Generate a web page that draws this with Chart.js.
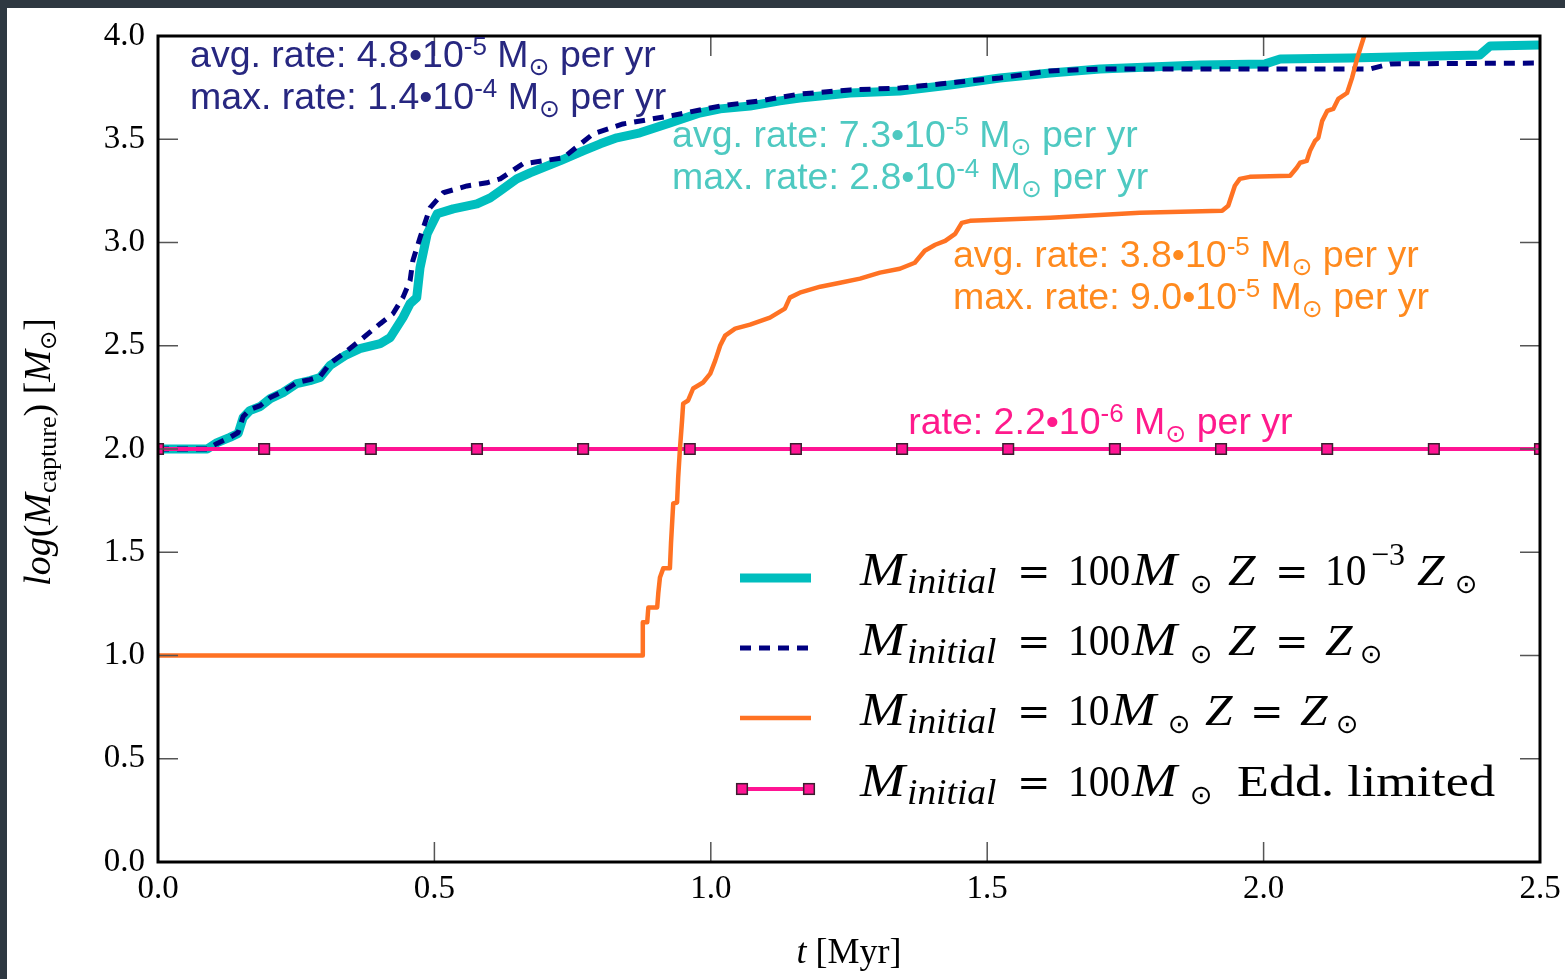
<!DOCTYPE html>
<html><head><meta charset="utf-8">
<script src="https://cdn.jsdelivr.net/npm/chart.js@4.4.1/dist/chart.umd.min.js"></script>
<style>
html,body{margin:0;padding:0;background:#2e3841;width:1565px;height:979px;overflow:hidden}
#wrap{position:absolute;left:7px;top:8px;width:1558px;height:971px;background:#fff}
canvas{display:block}
</style></head><body>
<div id="wrap"><canvas id="c" width="1558" height="971"></canvas></div>
<script>
// ---- data (t in Myr, value = log(M_capture / Msun)) ----
const xTicks = [0, 0.5, 1.0, 1.5, 2.0, 2.5];
const yTicks = [0, 0.5, 1.0, 1.5, 2.0, 2.5, 3.0, 3.5, 4.0];

const tCyan = [0,0.089,0.107,0.130,0.145,0.154,0.166,0.185,0.203,0.226,0.251,0.275,0.293,0.311,0.338,0.365,0.402,0.420,0.443,0.456,0.468,0.474,0.487,0.505,0.534,0.577,0.601,0.619,0.649,0.673,0.700,0.727,0.769,0.800,0.830,0.872,0.926,0.980,1.017,1.071,1.125,1.161,1.252,1.342,1.433,1.523,1.614,1.704,1.885,2.003,2.030,2.156,2.391,2.410,2.5];
const vCyan = [2.0,2.0,2.031,2.056,2.075,2.152,2.186,2.206,2.244,2.273,2.317,2.331,2.346,2.404,2.452,2.486,2.510,2.539,2.636,2.704,2.733,2.878,3.042,3.139,3.163,3.187,3.216,3.250,3.308,3.337,3.366,3.395,3.444,3.478,3.507,3.531,3.579,3.627,3.647,3.661,3.686,3.700,3.724,3.734,3.763,3.797,3.821,3.840,3.860,3.865,3.889,3.894,3.908,3.952,3.956];

const tNavy = [0,0.089,0.107,0.130,0.145,0.154,0.166,0.185,0.203,0.226,0.251,0.275,0.293,0.311,0.338,0.365,0.402,0.425,0.443,0.456,0.461,0.474,0.492,0.516,0.559,0.595,0.619,0.660,0.733,0.787,0.841,0.926,1.017,1.089,1.161,1.252,1.342,1.433,1.523,1.614,1.704,2.192,2.229,2.5];
const vNavy = [2.0,2.0,2.027,2.056,2.080,2.157,2.191,2.210,2.249,2.278,2.322,2.336,2.351,2.414,2.467,2.525,2.607,2.655,2.733,2.815,2.912,3.023,3.168,3.241,3.274,3.289,3.308,3.381,3.410,3.526,3.574,3.613,3.661,3.686,3.719,3.739,3.748,3.773,3.797,3.831,3.840,3.840,3.865,3.869];

const tOrange = [0,0.876,0.877,0.885,0.887,0.903,0.905,0.908,0.914,0.926,0.928,0.932,0.939,0.941,0.944,0.948,0.950,0.959,0.968,0.986,0.999,1.008,1.017,1.026,1.044,1.071,1.107,1.134,1.143,1.161,1.198,1.234,1.270,1.306,1.342,1.369,1.387,1.406,1.424,1.442,1.454,1.469,1.614,1.776,1.925,1.936,1.948,1.957,1.975,2.048,2.060,2.066,2.078,2.084,2.093,2.099,2.106,2.115,2.126,2.135,2.151,2.160,2.169,2.178,2.182];
const vOrange = [1.0,1.0,1.161,1.161,1.233,1.233,1.301,1.378,1.422,1.422,1.543,1.736,1.741,1.862,1.993,2.138,2.220,2.235,2.293,2.322,2.365,2.428,2.501,2.549,2.583,2.602,2.636,2.680,2.733,2.757,2.786,2.805,2.825,2.854,2.873,2.902,2.960,2.989,3.008,3.042,3.095,3.105,3.120,3.144,3.154,3.178,3.275,3.308,3.318,3.323,3.362,3.386,3.395,3.444,3.492,3.507,3.589,3.637,3.647,3.695,3.724,3.797,3.889,3.966,4.0];

const tPink = [0,0.192,0.385,0.577,0.769,0.962,1.154,1.346,1.538,1.731,1.923,2.115,2.308,2.5];
const vPink = [2.0,2.0,2.0,2.0,2.0,2.0,2.0,2.0,2.0,2.0,2.0,2.0,2.0,2.0];

const pts = (ts, vs) => ts.map((t, i) => ({x: t, y: vs[i]}));

const SERIF = "'Liberation Serif','DejaVu Serif',serif";
const SANS = "'Liberation Sans',Arial,sans-serif";
const SYM = "'DejaVu Sans',sans-serif";

function segFont(s, base) {
  const size = s.size || base.size;
  const fam = s.sym ? SYM : (s.fam || base.family);
  return (s.it ? 'italic ' : '') + size + 'px ' + fam;
}
function drawRich(ctx, segs, x, y, base) {
  let cx = x;
  for (const s of segs) {
    ctx.font = segFont(s, base);
    const sx = s.sx || 1;
    const px = (s.x !== undefined) ? x + s.x : cx;
    ctx.save();
    ctx.translate(px, y + (s.dy || 0));
    ctx.scale(sx, 1);
    ctx.fillText(s.t, 0, 0);
    ctx.restore();
    cx = px + ctx.measureText(s.t).width * sx;
  }
  return cx - x;
}
function measureRich(ctx, segs, base) {
  let w = 0;
  for (const s of segs) {
    ctx.font = segFont(s, base);
    w += ctx.measureText(s.t).width * (s.sx || 1);
  }
  return w;
}

function rateLine(prefix, exp) {
  return [{t: prefix + '•10'}, {t: exp, size: 26, dy: -12}, {t: ' M'}, {t: '⊙', sym: 1, size: 25, dy: 8}, {t: ' per yr'}];
}

const annotations = [
  {color: '#272780', t: 0.058, v: 3.850, lines: [rateLine('avg. rate: 4.8', '-5'), rateLine('max. rate: 1.4', '-4')]},
  {color: '#4ec9c1', t: 0.930, v: 3.463, lines: [rateLine('avg. rate: 7.3', '-5'), rateLine('max. rate: 2.8', '-4')]},
  {color: '#ff8a1e', t: 1.438, v: 2.883, lines: [rateLine('avg. rate: 3.8', '-5'), rateLine('max. rate: 9.0', '-5')]},
  {color: '#ff1a8c', t: 1.357, v: 2.075, lines: [rateLine('rate: 2.2', '-6')]}
];

const EQ = {t: '=', fam: "'DejaVu Serif',serif", size: 40};
const LM = {t: 'M', it: 1, size: 47, sx: 1.15};
const LSUB = {t: 'initial', it: 1, size: 36, dy: 8, sx: 1.04};
const LSUN = {t: '⊙', sym: 1, size: 27, dy: 8};
const LZ = {t: 'Z', it: 1, sx: 1.1};
const at = (o, x) => Object.assign({}, o, {x});
const legendRows = [
  [at(LM,0),at(LSUB,47),at(EQ,157),{t:'100',x:208,sx:0.92},at(LM,272),at(LSUN,330),at(LZ,368),at(EQ,415),{t:'10',x:465,sx:0.92},{t:'−3',x:511,size:32,dy:-20},at(LZ,557),at(LSUN,595)],
  [at(LM,0),at(LSUB,47),at(EQ,157),{t:'100',x:208,sx:0.92},at(LM,272),at(LSUN,330),at(LZ,368),at(EQ,415),at(LZ,465),at(LSUN,500)],
  [at(LM,0),at(LSUB,47),at(EQ,157),{t:'10',x:208,sx:0.92},at(LM,251),at(LSUN,308),at(LZ,345),at(EQ,390),at(LZ,440),at(LSUN,476)],
  [at(LM,0),at(LSUB,47),at(EQ,157),{t:'100',x:208,sx:0.92},at(LM,272),at(LSUN,330),{t:'Edd. limited',x:377,sx:1.16}]
];

const decorPlugin = {
  id: 'decor',
  afterDatasetsDraw(chart) {
    const {ctx, chartArea: a, scales: {x, y}} = chart;
    ctx.save();
    ctx.strokeStyle = '#555';
    ctx.lineWidth = 1.5;
    ctx.beginPath();
    const L = 20;
    xTicks.forEach(v => {
      const px = x.getPixelForValue(v);
      ctx.moveTo(px, a.top); ctx.lineTo(px, a.top + L);
      ctx.moveTo(px, a.bottom); ctx.lineTo(px, a.bottom - L);
    });
    yTicks.forEach(v => {
      const py = y.getPixelForValue(v);
      ctx.moveTo(a.left, py); ctx.lineTo(a.left + L, py);
      ctx.moveTo(a.right, py); ctx.lineTo(a.right - L, py);
    });
    ctx.stroke();
    ctx.strokeStyle = '#000';
    ctx.lineWidth = 3;
    ctx.strokeRect(a.left, a.top, a.right - a.left, a.bottom - a.top);
    ctx.restore();
  },
  afterDraw(chart) {
    const {ctx, chartArea: a, scales: {x, y}} = chart;
    ctx.save();
    ctx.textBaseline = 'alphabetic';
    ctx.textAlign = 'left';
    // annotations
    annotations.forEach(an => {
      ctx.fillStyle = an.color;
      const px = x.getPixelForValue(an.t), py = y.getPixelForValue(an.v);
      an.lines.forEach((ln, i) => drawRich(ctx, ln, px, py + i * 42, {size: 37.5, family: SANS}));
    });
    // legend
    const ds = chart.data.datasets;
    const sx0 = 733, sx1 = 804, tx = 853;
    const baselines = [577, 647, 717, 788];
    ds.forEach((d, i) => {
      const ly = baselines[i] - 7;
      ctx.save();
      ctx.strokeStyle = d.borderColor;
      ctx.lineWidth = d.borderWidth;
      ctx.setLineDash(d.borderDash || []);
      ctx.beginPath(); ctx.moveTo(sx0, ly); ctx.lineTo(sx1, ly); ctx.stroke();
      ctx.restore();
      if (d.pointRadius > 0) {
        [sx0 + 2, sx1 - 2].forEach(px => {
          const s = d.pointRadius * Math.SQRT1_2;
          ctx.fillStyle = d.pointBackgroundColor;
          ctx.strokeStyle = d.pointBorderColor;
          ctx.lineWidth = d.pointBorderWidth;
          ctx.fillRect(px - s, ly - s, 2 * s, 2 * s);
          ctx.strokeRect(px - s, ly - s, 2 * s, 2 * s);
        });
      }
      ctx.fillStyle = '#000';
      drawRich(ctx, legendRows[i], tx, baselines[i], {size: 45, family: SERIF});
    });
    // x title
    ctx.fillStyle = '#000';
    const xt = [{t: 't', it: 1}, {t: ' [Myr]'}];
    const xw = measureRich(ctx, xt, {size: 36, family: SERIF});
    drawRich(ctx, xt, (a.left + a.right) / 2 - xw / 2, 955, {size: 36, family: SERIF});
    // y title
    const yt = [{t: 'log', it: 1}, {t: '('}, {t: 'M', it: 1}, {t: 'capture', size: 26, dy: 6}, {t: ')'}, {t: ' ['}, {t: 'M', it: 1}, {t: '⊙', sym: 1, size: 23, dy: 6}, {t: ']'}];
    const yw = measureRich(ctx, yt, {size: 38, family: SERIF});
    ctx.translate(43, (a.top + a.bottom) / 2 + 3);
    ctx.rotate(-Math.PI / 2);
    drawRich(ctx, yt, -yw / 2, 0, {size: 38, family: SERIF});
    ctx.restore();
  }
};

const zeroPad = s => { s.paddingTop = 0; s.paddingBottom = 0; s.paddingLeft = 0; s.paddingRight = 0; };
const tickFont = {family: SERIF, size: 33};
new Chart(document.getElementById('c'), {
  type: 'line',
  data: {
    datasets: [
      {label: 'M_initial = 100 M⊙, Z = 10^-3 Z⊙', data: pts(tCyan, vCyan), borderColor: '#00bebe', borderWidth: 9, pointRadius: 0, order: 4, clip: 4},
      {label: 'M_initial = 100 M⊙, Z = Z⊙', data: pts(tNavy, vNavy), borderColor: '#000080', borderWidth: 5, borderDash: [11, 8], pointRadius: 0, order: 3, clip: 4},
      {label: 'M_initial = 10 M⊙, Z = Z⊙', data: pts(tOrange, vOrange), borderColor: '#ff7223', borderWidth: 4.5, pointRadius: 0, order: 1, clip: 0},
      {label: 'M_initial = 100 M⊙ Edd. limited', data: pts(tPink, vPink), borderColor: '#ff1493', borderWidth: 4, pointRadius: 7.5, pointStyle: 'rect', pointBackgroundColor: '#ff1493', pointBorderColor: '#3a1f2f', pointBorderWidth: 1.5, order: 2, clip: 0}
    ]
  },
  options: {
    responsive: false, animation: false, devicePixelRatio: 1,
    layout: {padding: {left: 0, top: 28, right: 25, bottom: 0}},
    elements: {line: {tension: 0, borderCapStyle: 'butt', borderJoinStyle: 'round'}},
    plugins: {legend: {display: false}, tooltip: {enabled: false}, title: {display: false}},
    scales: {
      x: {type: 'linear', min: 0, max: 2.5,
          afterBuildTicks: s => { s.ticks = xTicks.map(v => ({value: v})); },
          ticks: {callback: v => Number(v).toFixed(1), font: tickFont, color: '#000', padding: 8, maxRotation: 0, autoSkip: false},
          grid: {display: false, drawTicks: false, tickLength: 0}, border: {display: false},
          afterFit: s => { s.height = 117; zeroPad(s); }},
      y: {type: 'linear', min: 0, max: 4,
          afterBuildTicks: s => { s.ticks = yTicks.map(v => ({value: v})); },
          ticks: {callback: v => Number(v).toFixed(1), font: tickFont, color: '#000', padding: 13, autoSkip: false},
          grid: {display: false, drawTicks: false, tickLength: 0}, border: {display: false},
          afterFit: s => { s.width = 151; zeroPad(s); }}
    }
  },
  plugins: [decorPlugin]
});
</script>
</body></html>
